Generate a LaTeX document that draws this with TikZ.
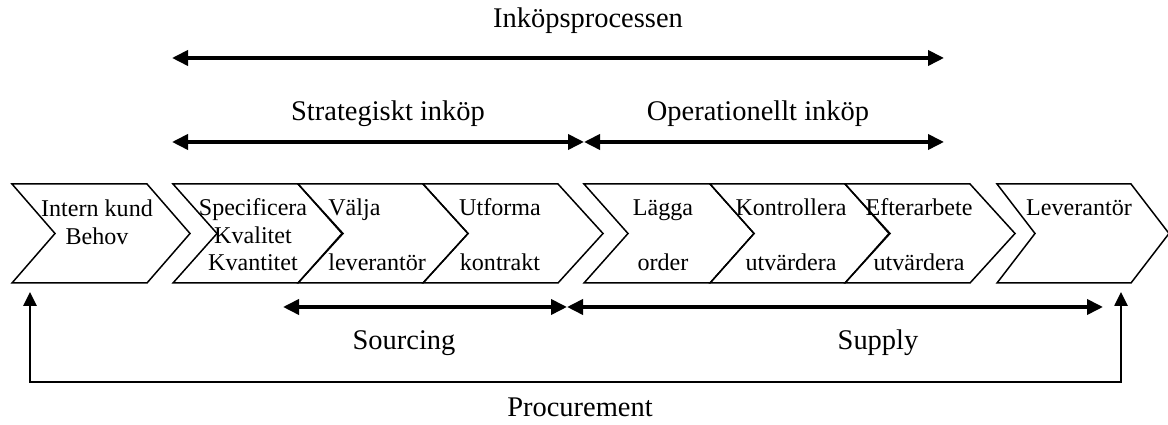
\documentclass[tikz,border=0pt]{standalone}
\usepackage{fontspec}
\setmainfont{Liberation Serif}
\usepackage{tikz}
\usetikzlibrary{arrows.meta}

\begin{document}
\begin{tikzpicture}[
    chev/.style={draw, line width=0.85pt, line join=miter},
    steptext/.style={inner sep=0pt, align=center, font=\fontsize{13.7}{15.6}\selectfont},
    lbl/.style={inner sep=0pt, font=\fontsize{16.2}{19}\selectfont},
    span/.style={line width=2.1pt, {Triangle[length=0.32cm, width=0.3cm]}-{Triangle[length=0.32cm, width=0.3cm]}},
    loop/.style={line width=1.5pt, {Triangle[length=0.28cm, width=0.26cm]}-{Triangle[length=0.28cm, width=0.26cm]}}
]
    \useasboundingbox (0,0) rectangle (23.36,8.5);

    % Chevrons (left edge / right edge / point depth)
    \foreach \l/\r/\d in {0.24/2.94/0.86, 3.46/5.96/0.88, 5.96/8.46/0.90, 8.46/11.16/0.90,
                          11.68/14.20/0.88, 14.20/16.90/0.88, 16.90/19.40/0.90, 19.94/22.62/0.76} {
        \draw[chev] (\l,4.82) -- (\r,4.82) -- (\r+\d,3.83) -- (\r,2.84) -- (\l,2.84) -- (\l+\d,3.83) -- cycle;
    }

    % Chevron texts
    \node[steptext] (kund) at (1.94,4.05) {Intern kund\\[0.5pt]Behov};
    \node[steptext] (spec) at (5.06,3.80) {Specificera\\Kvalitet\\Kvantitet};
    \node[steptext, align=left, anchor=west] (valja) at (6.56,3.80) {V\"alja\\\mbox{}\\leverant\"or};
    \node[steptext] (utforma) at (10.00,3.80) {Utforma\\\mbox{}\\kontrakt};
    \node[steptext] (lagga) at (13.26,3.80) {L\"agga\\\mbox{}\\order};
    \node[steptext] (kontroll) at (15.82,3.80) {Kontrollera\\\mbox{}\\utv\"ardera};
    \node[steptext] (efter) at (18.38,3.80) {Efterarbete\\\mbox{}\\utv\"ardera};
    \node[steptext] (lev) at (21.58,4.34) {Leverant\"or};

    % Span labels
    \node[lbl] (process) at (11.76,8.08) {Ink\"opsprocessen};
    \node[lbl] (strat) at (7.76,6.22) {Strategiskt ink\"op};
    \node[lbl] (oper) at (15.16,6.22) {Operationellt ink\"op};
    \node[lbl] (sourcing) at (8.08,1.64) {Sourcing};
    \node[lbl] (supply) at (17.56,1.64) {Supply};
    \node[lbl] (procure) at (11.60,0.36) {Procurement};

    % Span end points
    \coordinate (pA) at (3.44,7.34);
    \coordinate (pB) at (18.88,7.34);
    \coordinate (sA) at (3.44,5.66);
    \coordinate (sB) at (11.68,5.66);
    \coordinate (oB) at (18.88,5.66);
    \coordinate (uA) at (5.66,2.36);
    \coordinate (uB) at (11.34,2.36);
    \coordinate (yB) at (22.06,2.36);
    \coordinate (kA) at (0.60,2.66);
    \coordinate (kB) at (22.42,2.66);

    % Span arrows
    \draw[span] (pA) -- (pB);
    \draw[span] (sA) -- (sB);
    \draw[span] (sB) -- (oB);
    \draw[span] (uA) -- (uB);
    \draw[span] (uB) -- (yB);

    % Procurement loop
    \draw[loop] (kA) -- (0.60,0.86) -- (22.42,0.86) -- (kB);
\end{tikzpicture}
\end{document}
